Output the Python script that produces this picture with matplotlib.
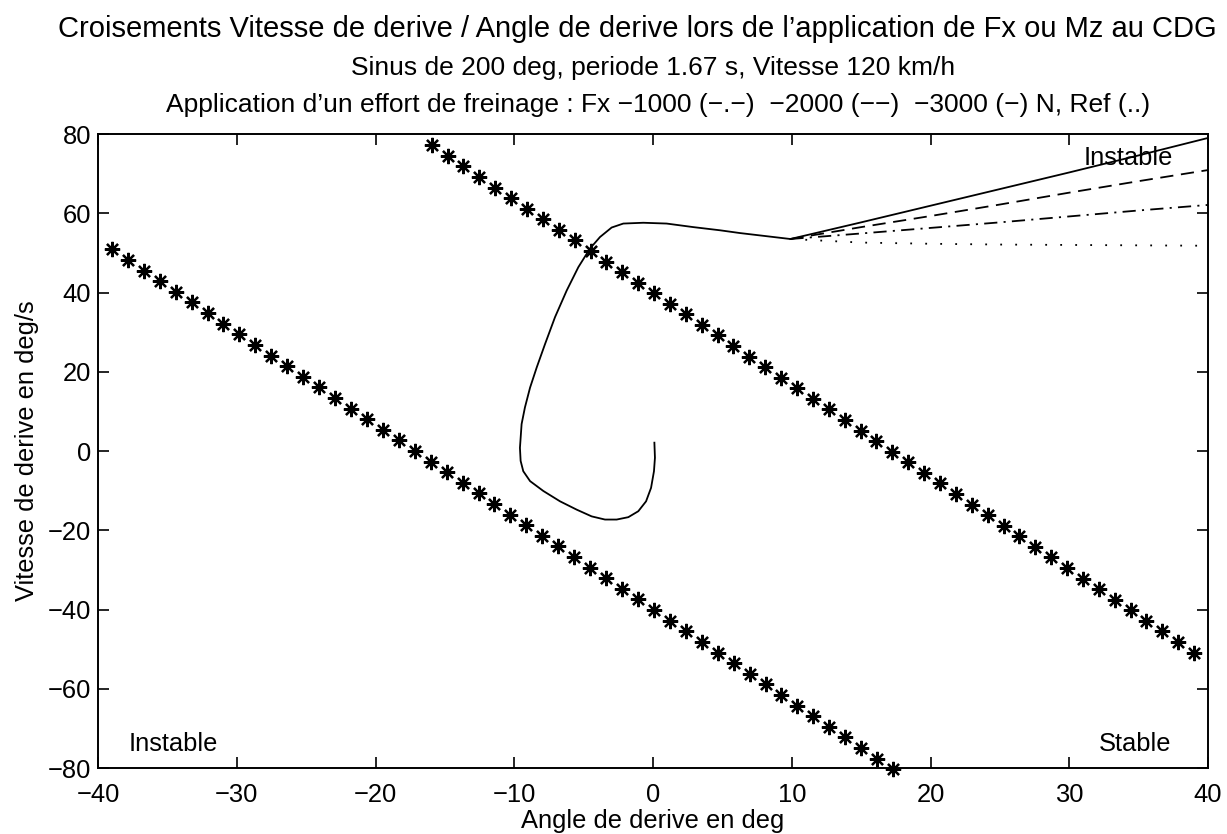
import numpy as np
import matplotlib
matplotlib.use("Agg")
import matplotlib.pyplot as plt

plt.rcParams['font.family'] = ['Liberation Sans', 'DejaVu Sans']
plt.rcParams['lines.scale_dashes'] = False

# stability boundaries: y = intercept + slope * x, marked with asterisks
BOUND_SLOPE = -2.33
LOWER_INTERCEPT = -40.0
UPPER_INTERCEPT = 40.0
LOWER_X_RANGE = (-39.0, 17.3)
UPPER_X_RANGE = (-15.95, 39.0)
LOWER_N = 50
UPPER_N = 49

# common trajectory (angle, speed) up to the moment the effort is applied
traj_x = [0.10, 0.14, 0.07, -0.14, -0.50, -1.06, -1.78, -2.62, -3.46, -4.42,
          -5.50, -6.70, -7.90, -8.86, -9.35, -9.54, -9.59, -9.47, -9.23, -8.86,
          -8.38, -7.78, -7.06, -6.22, -5.38, -4.54, -3.82, -2.98, -2.14, -0.70,
          0.98, 2.91, 4.83, 6.27, 9.90]
traj_y = [2.1, -1.7, -5.1, -9.3, -12.7, -15.2, -16.7, -17.3, -17.3, -16.5,
          -14.8, -12.7, -10.1, -7.6, -5.1, -2.5, 0.8, 6.8, 11.0, 16.0,
          21.1, 27.0, 33.8, 40.5, 46.4, 51.1, 54.0, 56.4, 57.4, 57.6,
          57.4, 56.5, 55.7, 55.0, 53.5]

# branches after the kink, one per braking effort
branch_x = [9.90, 15, 20, 25, 30, 35, 40]
fx_3000 = [53.5, 57.7, 61.9, 66.1, 70.3, 74.6, 79.0]
fx_2000 = [53.5, 56.5, 59.3, 62.2, 65.2, 68.1, 70.9]
fx_1000 = [53.5, 54.9, 56.3, 57.7, 59.2, 60.7, 62.1]
ref = [53.5, 52.6, 52.3, 52.1, 52.0, 51.9, 51.8]

fig = plt.figure(figsize=(12.27, 8.34), dpi=100)
ax = fig.add_axes([98 / 1227, 1 - 768 / 834, 1110 / 1227, 634 / 834])

fs = 18.4
asterisk = (8, 2, 0)

xl = np.linspace(*LOWER_X_RANGE, LOWER_N)
xu = np.linspace(*UPPER_X_RANGE, UPPER_N)
ax.plot(xl, LOWER_INTERCEPT + BOUND_SLOPE * xl, linestyle='none', marker=asterisk,
        markersize=11, markeredgewidth=1.6, color='black', clip_on=False)
ax.plot(xu, UPPER_INTERCEPT + BOUND_SLOPE * xu, linestyle='none', marker=asterisk,
        markersize=11, markeredgewidth=1.6, color='black', clip_on=False)

lw = 1.3
ax.plot(traj_x, traj_y, color='black', lw=lw)
ax.plot(branch_x, fx_3000, color='black', lw=lw, linestyle='-')
ax.plot(branch_x, fx_2000, color='black', lw=lw, linestyle=(0, (9.5, 5.5)))
ax.plot(branch_x, fx_1000, color='black', lw=lw, linestyle=(0, (9.5, 4.5, 1.5, 4.5)))
ax.plot(branch_x, ref, color='black', lw=lw, linestyle=(0, (1.3, 9.5)))

ax.text(31.0, 74, 'Instable', fontsize=fs, va='center')
ax.text(-37.8, -74, 'Instable', fontsize=fs, va='center')
ax.text(32.1, -74, 'Stable', fontsize=fs, va='center')

ax.set_xlim(-40, 40)
ax.set_ylim(-80, 80)
ax.set_xticks(np.arange(-40, 41, 10))
ax.set_yticks(np.arange(-80, 81, 20))
ax.tick_params(direction='in', length=8, width=1.2, top=True, right=True,
               labelsize=fs, pad=5)
ax.tick_params(axis='x', pad=10.5)
for s in ax.spines.values():
    s.set_linewidth(1.4)

ax.set_xlabel('Angle de derive en deg', fontsize=fs, labelpad=2)
ax.set_ylabel('Vitesse de derive en deg/s', fontsize=fs, labelpad=6)

fig.text(637 / 1227, 1 - 37 / 834,
         "Croisements Vitesse de derive / Angle de derive lors de l\u2019application de Fx ou Mz au CDG",
         ha='center', va='baseline', fontsize=21)
fig.text(653 / 1227, 1 - 74.5 / 834,
         "Sinus de 200 deg, periode 1.67 s, Vitesse 120 km/h",
         ha='center', va='baseline', fontsize=19)
fig.text(658 / 1227, 1 - 112 / 834,
         "Application d\u2019un effort de freinage : Fx \u22121000 (\u2212.\u2212)  \u22122000 (\u2212\u2212)  \u22123000 (\u2212) N, Ref (..)",
         ha='center', va='baseline', fontsize=19)

fig.savefig('out.png', dpi=100)
